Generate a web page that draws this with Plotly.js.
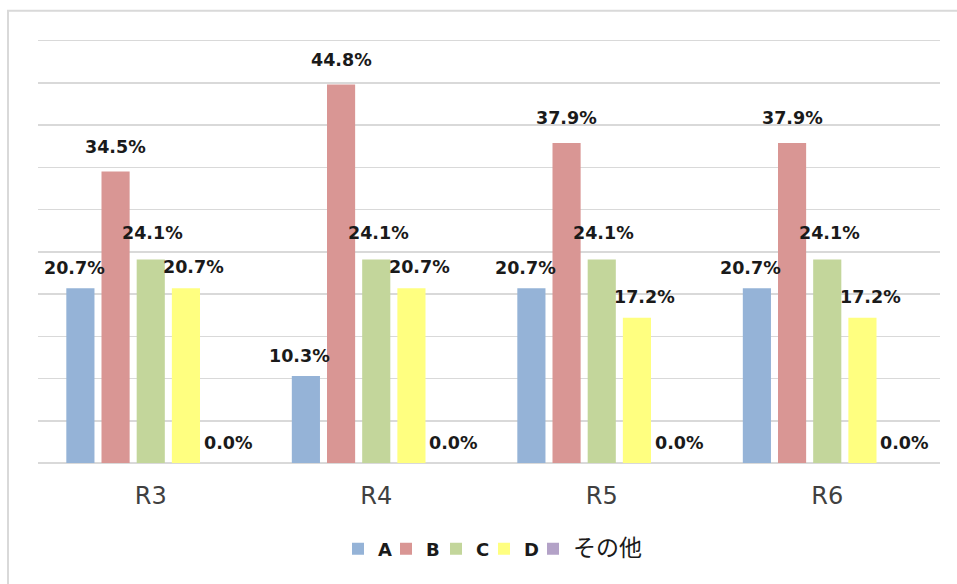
<!DOCTYPE html>
<html>
<head>
<meta charset="utf-8">
<script src="https://cdn.plot.ly/plotly-3.0.1.min.js"></script>
<style>
html,body{margin:0;padding:0;background:#fff;}
#chart{width:957px;height:584px;}
</style>
</head>
<body>
<div id="chart"></div>
<script>
// ---- data ----
var categories = ['R3', 'R4', 'R5', 'R6'];
var seriesNames = ['A', 'B', 'C', 'D', 'その他'];
var valuesA = [20.7, 10.3, 20.7, 20.7];
var valuesB = [34.5, 44.8, 37.9, 37.9];
var valuesC = [24.1, 24.1, 24.1, 24.1];
var valuesD = [20.7, 20.7, 17.2, 17.2];
var valuesOther = [0.0, 0.0, 0.0, 0.0];
var yTickValues = [0, 5, 10, 15, 20, 25, 30, 35, 40, 45, 50];

// ---- styles ----
var seriesColors = ['#95B3D7', '#D99694', '#C3D69B', '#FFFF80', '#B3A2C7'];
var allValues = [valuesA, valuesB, valuesC, valuesD, valuesOther];
var W = 957, H = 584;
var yMax = 50.2;
var plotBottom = 463;
var pxPerUnit = (plotBottom - 41) / 50;
var margin = {l: 38, r: 17, t: plotBottom - yMax * pxPerUnit, b: H - plotBottom};
var bargap = 0.22, bargroupgap = 0.2;
var plotW = W - margin.l - margin.r;
var plotH = H - margin.t - margin.b;
var slot = plotW / categories.length * (1 - bargap) / seriesNames.length;
var labelDx = [-6, 0, 2, 8, 7];
var labelDy = [20, 25, 26, 21, 20];
var legendY = (plotBottom - 549) / plotH;
var legendLeftPx = [338, 386, 436, 484, 533];

function legendId(i) { return i === 0 ? 'legend' : 'legend' + (i + 1); }

var traces = seriesNames.map(function (name, i) {
  var last = (i === seriesNames.length - 1);
  var label = !last ? '<b>' + name + '</b>'
    : '<span style="font-size:23px;font-family:\'Noto Sans CJK JP\'">' + name + '</span>';
  return {
    type: 'bar',
    name: label,
    x: categories,
    y: allValues[i],
    legend: legendId(i),
    marker: {color: seriesColors[i], line: {width: 0}},
    hoverinfo: 'none'
  };
});

var annotations = [];
allValues.forEach(function (vals, i) {
  vals.forEach(function (v, j) {
    annotations.push({
      x: categories[j], y: v, xref: 'x', yref: 'y',
      text: '<b>' + v.toFixed(1) + '%</b>',
      showarrow: false,
      xanchor: 'center', yanchor: 'middle',
      xshift: (i - (seriesNames.length - 1) / 2) * slot + labelDx[i],
      yshift: labelDy[i],
      font: {family: 'DejaVu Sans', size: 17.5, color: '#1a1a1a'}
    });
  });
});

var layout = {
  width: W, height: H,
  margin: margin,
  paper_bgcolor: '#ffffff',
  plot_bgcolor: '#ffffff',
  barmode: 'group',
  bargap: bargap,
  bargroupgap: bargroupgap,
  showlegend: true,
  xaxis: {
    type: 'category',
    tickfont: {family: 'DejaVu Sans', size: 24, color: '#404040'},
    showline: false, ticks: '', showgrid: false,
    ticklabelstandoff: 16
  },
  yaxis: {
    range: [0, yMax],
    tickvals: yTickValues,
    showticklabels: false,
    showgrid: true,
    gridcolor: '#d9d9d9',
    gridwidth: 1.5,
    zeroline: true,
    zerolinecolor: '#d9d9d9',
    zerolinewidth: 2,
    ticks: ''
  },
  shapes: [{
    type: 'rect', xref: 'paper', yref: 'paper',
    x0: (8 - margin.l) / plotW, x1: (W + 10 - margin.l) / plotW,
    y0: -0.35, y1: (plotBottom - 11) / plotH,
    line: {color: '#d9d9d9', width: 2},
    fillcolor: 'rgba(0,0,0,0)',
    layer: 'below'
  }],
  annotations: annotations
};

seriesNames.forEach(function (name, i) {
  layout[legendId(i)] = {
    orientation: 'h',
    x: (legendLeftPx[i] - margin.l) / plotW, xanchor: 'left',
    y: legendY, yanchor: 'middle',
    font: {family: 'DejaVu Sans', size: 18, color: '#1a1a1a'},
    bgcolor: 'rgba(0,0,0,0)',
    itemclick: false
  };
});

Plotly.newPlot('chart', traces, layout, {displayModeBar: false, staticPlot: true});
</script>
</body>
</html>
